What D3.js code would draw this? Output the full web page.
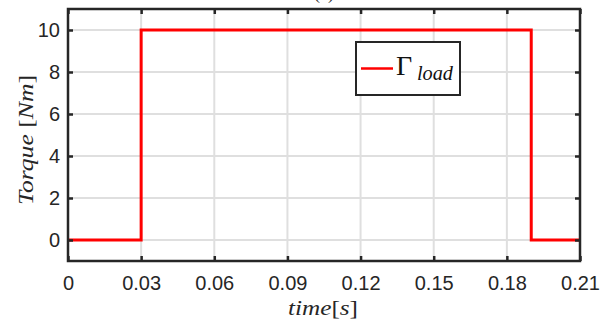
<!DOCTYPE html>
<html>
<head>
<meta charset="utf-8">
<script src="https://cdn.jsdelivr.net/npm/d3@7/dist/d3.min.js"></script>
<style>
  html, body { margin: 0; padding: 0; background: #fff; }
  svg { display: block; }
</style>
</head>
<body>
<svg id="chart" width="612" height="331"></svg>
<script>
// Load torque step profile
const timeValues = [0, 0.03, 0.03, 0.19, 0.19, 0.21];
const torqueValues = [0, 0, 10, 10, 0, 0];
const xTicks = [0, 0.03, 0.06, 0.09, 0.12, 0.15, 0.18, 0.21];
const yTicks = [0, 2, 4, 6, 8, 10];
const xDomain = [0, 0.21];
const yDomain = [-1, 11];

const svg = d3.select("#chart");
const m = { left: 68, right: 580, top: 9, bottom: 261 };

const x = d3.scaleLinear().domain(xDomain).range([m.left, m.right]);
const y = d3.scaleLinear().domain(yDomain).range([m.bottom, m.top]);

const tickFont = "'Liberation Sans', Arial, Helvetica, sans-serif";
const mathFont = "'Liberation Serif', 'DejaVu Serif', serif";
const axisColor = "#262626";

// grid
const grid = svg.append("g");
grid.selectAll("line.gx").data(xTicks).join("line")
  .attr("x1", d => x(d)).attr("x2", d => x(d))
  .attr("y1", m.top).attr("y2", m.bottom)
  .attr("stroke", "#dfdfdf").attr("stroke-width", 2);
grid.selectAll("line.gy").data(yTicks).join("line")
  .attr("y1", d => y(d)).attr("y2", d => y(d))
  .attr("x1", m.left).attr("x2", m.right)
  .attr("stroke", "#dfdfdf").attr("stroke-width", 2);

// data line
const line = d3.line().x((d, i) => x(timeValues[i])).y(d => y(d));
svg.append("path")
  .datum(torqueValues)
  .attr("d", line)
  .attr("fill", "none")
  .attr("stroke", "#ff0000")
  .attr("stroke-width", 3)
  .attr("stroke-linejoin", "miter");

// axes (ticks drawn inward on all sides)
const tickLen = 5;
const fmtX = d => d === 0 ? "0" : d3.format(".2f")(d);
const bottomAxis = d3.axisBottom(x).tickValues(xTicks).tickSize(-tickLen).tickPadding(15).tickFormat(fmtX);
const topAxis = d3.axisTop(x).tickValues(xTicks).tickSize(-tickLen).tickFormat("");
const leftAxis = d3.axisLeft(y).tickValues(yTicks).tickSize(-tickLen).tickPadding(8).tickFormat(d3.format("d"));
const rightAxis = d3.axisRight(y).tickValues(yTicks).tickSize(-tickLen).tickFormat("");

function styleAxis(g) {
  g.select(".domain").remove();
  g.selectAll(".tick line").attr("stroke", axisColor).attr("stroke-width", 2.5);
  g.selectAll(".tick text").attr("fill", axisColor)
    .style("font-family", tickFont).style("font-size", "20px");
}
svg.append("g").attr("transform", `translate(0,${m.bottom})`).call(bottomAxis).call(styleAxis);
svg.append("g").attr("transform", `translate(0,${m.top})`).call(topAxis).call(styleAxis);
svg.append("g").attr("transform", `translate(${m.left},0)`).call(leftAxis).call(styleAxis);
svg.append("g").attr("transform", `translate(${m.right},0)`).call(rightAxis).call(styleAxis);

// frame
svg.append("rect")
  .attr("x", m.left).attr("y", m.top)
  .attr("width", m.right - m.left).attr("height", m.bottom - m.top)
  .attr("fill", "none").attr("stroke", axisColor).attr("stroke-width", 2.5);

// title (sits above the frame)
svg.append("text")
  .attr("x", (m.left + m.right) / 2).attr("y", -1)
  .attr("text-anchor", "middle")
  .style("font-family", mathFont).style("font-size", "18px")
  .attr("fill", axisColor)
  .text("(a)");

// axis labels
svg.append("text")
  .attr("x", 288).attr("y", 315)
  .attr("textLength", 70).attr("lengthAdjust", "spacingAndGlyphs")
  .style("font-family", mathFont).style("font-size", "22px")
  .attr("fill", axisColor)
  .html("<tspan font-style='italic'>time</tspan>[<tspan font-style='italic'>s</tspan>]");

const yLabelMid = (m.top + m.bottom) / 2 + 5;
svg.append("text")
  .attr("transform", `translate(33,${yLabelMid + 65}) rotate(-90)`)
  .attr("textLength", 130).attr("lengthAdjust", "spacingAndGlyphs")
  .style("font-family", mathFont).style("font-size", "22px")
  .attr("fill", axisColor)
  .html("<tspan font-style='italic'>Torque</tspan> [<tspan font-style='italic'>Nm</tspan>]");

// legend
const lg = svg.append("g");
lg.append("rect")
  .attr("x", 356).attr("y", 42).attr("width", 104).attr("height", 53)
  .attr("fill", "#fff").attr("stroke", axisColor).attr("stroke-width", 2);
lg.append("line")
  .attr("x1", 361).attr("x2", 393).attr("y1", 68.5).attr("y2", 68.5)
  .attr("stroke", "#ff0000").attr("stroke-width", 2.5);
lg.append("text")
  .attr("x", 396).attr("y", 75)
  .style("font-family", mathFont).style("font-size", "28px")
  .attr("fill", "#111").text("\u0393");
lg.append("text")
  .attr("x", 417).attr("y", 80)
  .attr("textLength", 36).attr("lengthAdjust", "spacingAndGlyphs")
  .style("font-family", mathFont).style("font-size", "21px").style("font-style", "italic")
  .attr("fill", "#111").text("load");
</script>
</body>
</html>
